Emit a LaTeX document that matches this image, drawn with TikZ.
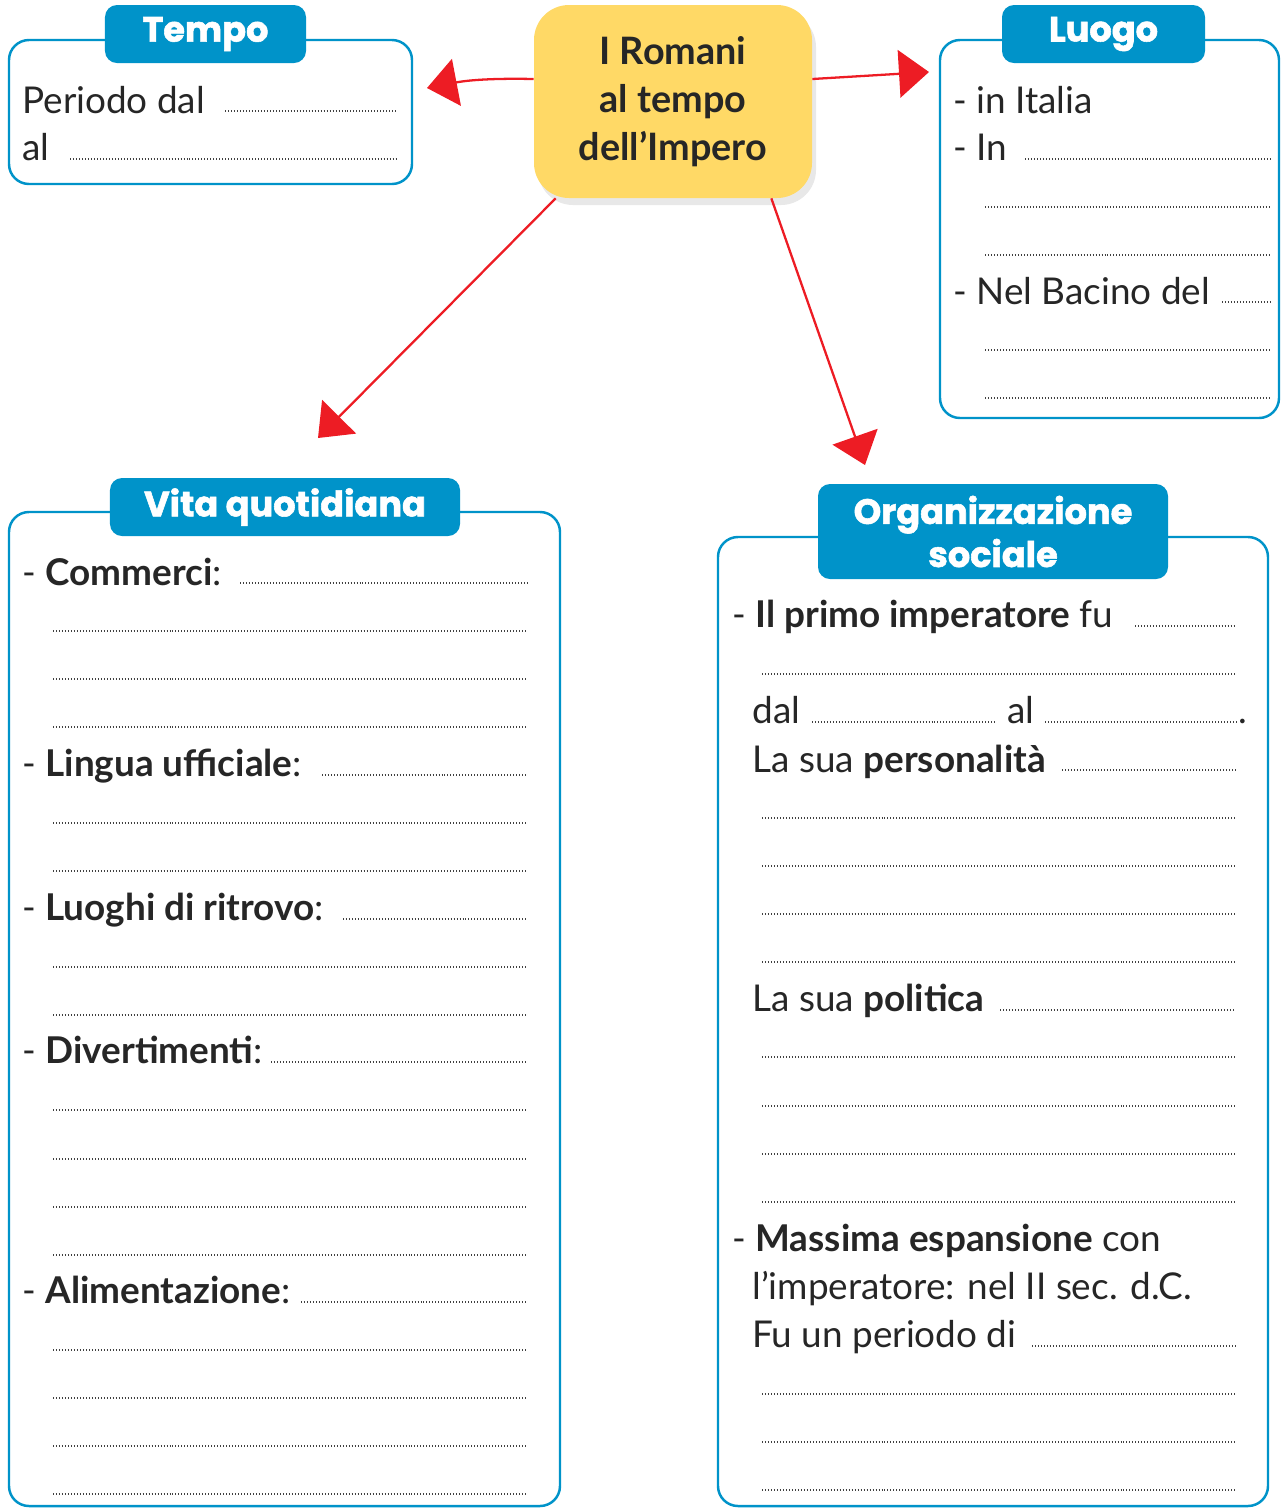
\documentclass[tikz,border=0pt]{standalone}
\usepackage{fontspec}
\setmainfont{Lato}
\newfontfamily\tabfont{Poppins}[BoldFeatures={FakeBold=1.6}]
\usetikzlibrary{arrows.meta,shadows}
\definecolor{tabblue}{RGB}{0,147,201}
\definecolor{keyyellow}{RGB}{255,217,102}
\definecolor{arrowred}{RGB}{237,28,36}

\begin{document}
\begin{tikzpicture}[x=0.2mm, y=-0.2mm,
    box_frame/.style={draw=tabblue, line width=1.4pt, rounded corners=4mm, fill=white},
    box_tab/.style={fill=tabblue, rounded corners=2.4mm, text=white, align=center,
        font=\tabfont\bfseries\fontsize{20}{24.5}\selectfont},
    main_text/.style={anchor=base west, inner sep=0pt, text=black!85,
        font=\fontsize{21}{25}\selectfont},
    fill_line/.style={draw=black!75, line width=0.7pt, dash pattern=on 0.5pt off 1.2pt},
    red_arrow/.style={draw=arrowred, line width=1.3pt, -{Triangle[length=6mm,width=9.5mm]}}]

    \useasboundingbox (0,0) rectangle (1283,1508);

    % frames and tabs
    \node[box_frame, minimum width=80.6mm, minimum height=28.8mm] (tempo) at (210.5,112) {};
    \node[box_tab, minimum width=40.2mm, minimum height=11.6mm] (tempo_tab) at (205.5,34) {Tempo};
    \node[box_frame, minimum width=67.8mm, minimum height=75.6mm] (luogo) at (1109.5,229) {};
    \node[box_tab, minimum width=40.6mm, minimum height=11.6mm] (luogo_tab) at (1103.5,34) {Luogo};
    \node[box_frame, minimum width=110.2mm, minimum height=198.8mm] (vita) at (284.5,1009) {};
    \node[box_tab, minimum width=70mm, minimum height=11.6mm] (vita_tab) at (285,507) {Vita quotidiana};
    \node[box_frame, minimum width=110mm, minimum height=193.8mm] (org) at (993,1021.5) {};
    \node[box_tab, minimum width=70mm, minimum height=19mm] (org_tab) at (993,531.5) {Organizzazione\\sociale};

    \node[fill=keyyellow, rounded corners=7mm, minimum width=55.6mm, minimum height=38.6mm,
        align=center, text=black!85, font=\bfseries\fontsize{21.5}{27.3}\selectfont,
        drop shadow={shadow xshift=0.8mm, shadow yshift=-1.4mm, opacity=0.18}]
        (romani) at (673,101.5) {I Romani\\al tempo\\dell’Impero};

    % arrows
    \coordinate (tip_tempo) at (427,88);
    \coordinate (tip_luogo) at (929,72);
    \coordinate (tip_vita) at (318,438);
    \coordinate (tip_org) at (865,465);
    \draw[red_arrow] ([yshift=4.5mm]romani.west) to[bend right=6] (tip_tempo);
    \draw[red_arrow] ([yshift=4.5mm]romani.east) -- (tip_luogo);
    \draw[red_arrow] ([xshift=4.4mm]romani.south west) -- (tip_vita);
    \draw[red_arrow] ([xshift=-8.2mm]romani.south east) -- (tip_org);

    % Tempo
    \node[main_text] (t1) at (22,113) {Periodo dal};
    \node[main_text] (t2) at (22,160) {al};
    \draw[fill_line] (225,111) -- (398,111);
    \draw[fill_line] (70,159) -- (398,159);

    % Luogo
    \node[main_text] (l1) at (953,113) {- in Italia};
    \node[main_text] (l2) at (953,160) {- In};
    \node[main_text] (l3) at (953,304) {- Nel Bacino del};
    \draw[fill_line] (1025,159) -- (1270,159);
    \draw[fill_line] (1222,302) -- (1270,302);
    \foreach \y in {207,255,350,398}
        \draw[fill_line] (985,\y) -- (1270,\y);

    % Vita quotidiana
    \node[main_text] (v1) at (22,585) {- \textbf{Commerci}:};
    \node[main_text] (v2) at (22,776) {- \textbf{Lingua ufficiale}:};
    \node[main_text] (v3) at (22,920) {- \textbf{Luoghi di ritrovo}:};
    \node[main_text] (v4) at (22,1063) {- \textbf{Divertimenti}:};
    \node[main_text] (v5) at (22,1303) {- \textbf{Alimentazione}:};
    \draw[fill_line] (240,583) -- (527,583);
    \draw[fill_line] (322,775) -- (527,775);
    \draw[fill_line] (343,919) -- (527,919);
    \draw[fill_line] (271,1062) -- (527,1062);
    \draw[fill_line] (301,1302) -- (527,1302);
    \foreach \y in {631,679,727,823,871,967,1015,1110,1159,1207,1255,1350,1398,1446,1494}
        \draw[fill_line] (53,\y) -- (527,\y);

    % Organizzazione sociale
    \node[main_text] (o1) at (732,627) {- \textbf{Il primo imperatore} fu};
    \node[main_text] (o2) at (752,723) {dal};
    \node[main_text] (o3) at (1007,723) {al};
    \node[main_text] (o4) at (1238,723) {.};
    \node[main_text] (o5) at (752,772) {La sua \textbf{personalità}};
    \node[main_text] (o6) at (752,1011) {La sua \textbf{politica}};
    \node[main_text] (o7) at (732,1251) {- \textbf{Massima espansione} con};
    \node[main_text] (o8) at (752,1299) {l’imperatore: nel II sec. d.C.};
    \node[main_text] (o9) at (752,1347) {Fu un periodo di};
    \draw[fill_line] (1135,626) -- (1236,626);
    \draw[fill_line] (812,722) -- (996,722);
    \draw[fill_line] (1045,722) -- (1237,722);
    \draw[fill_line] (1062,770) -- (1236,770);
    \draw[fill_line] (1000,1010) -- (1236,1010);
    \draw[fill_line] (1032,1346) -- (1236,1346);
    \foreach \y in {674,818,866,914,962,1057,1106,1154,1202,1394,1442,1490}
        \draw[fill_line] (762,\y) -- (1236,\y);
\end{tikzpicture}
\end{document}
